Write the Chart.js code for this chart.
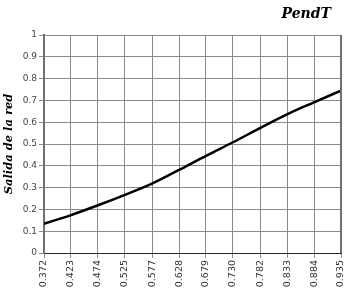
<!DOCTYPE html>
<html>
<head>
<meta charset="utf-8">
<script src="https://cdn.jsdelivr.net/npm/chart.js@4/dist/chart.umd.min.js"></script>
<style>
  html, body { margin: 0; padding: 0; background: #fff; }
  #wrap { width: 345px; height: 289px; }
</style>
</head>
<body>
<div id="wrap"><canvas id="myChart" width="345" height="289"></canvas></div>
<script>
// x positions (tick labels) and network output
const xTicks = [0.372, 0.423, 0.474, 0.525, 0.577, 0.628, 0.679, 0.730, 0.782, 0.833, 0.884, 0.935];
const xValues = [0.372, 0.4232, 0.4744, 0.5255, 0.5767, 0.6279, 0.6791, 0.7303, 0.7814, 0.8326, 0.8838, 0.935];
const salida = [0.134, 0.174, 0.219, 0.267, 0.318, 0.381, 0.446, 0.508, 0.573, 0.636, 0.691, 0.745];
const yTicks = [0, 0.1, 0.2, 0.3, 0.4, 0.5, 0.6, 0.7, 0.8, 0.9, 1];

const points = xValues.map((x, i) => ({ x: x, y: salida[i] }));

const titlePlugin = {
    id: 'cornerTitle',
    afterDraw(chart) {
        const ctx = chart.ctx;
        ctx.save();
        ctx.font = 'italic bold 14px "DejaVu Serif", serif';
        ctx.fillStyle = '#000';
        ctx.textAlign = 'right';
        ctx.textBaseline = 'middle';
        ctx.fillText('PendT', 331, 14);
        ctx.restore();
    }
};

const borderPlugin = {
    id: 'plotBorder',
    afterDatasetsDraw(chart) {
        const a = chart.chartArea;
        const ctx = chart.ctx;
        ctx.save();
        ctx.strokeStyle = '#707070';
        ctx.lineWidth = 2;
        ctx.beginPath();
        ctx.moveTo(a.right, a.top);
        ctx.lineTo(a.right, a.bottom);
        ctx.stroke();
        ctx.restore();
    }
};

var ctx = document.getElementById('myChart').getContext('2d');

new Chart(ctx, {
    type: 'line',
    data: {
        datasets: [{
            label: 'PendT',
            data: points,
            borderColor: '#000',
            borderWidth: 2.5,
            pointRadius: 0,
            cubicInterpolationMode: 'monotone',
            fill: false
        }]
    },
    options: {
        responsive: false,
        animation: false,
        layout: { padding: { top: 35, right: 4, left: 0, bottom: 0 } },
        plugins: {
            legend: { display: false },
            tooltip: { enabled: false }
        },
        scales: {
            x: {
                type: 'linear',
                min: xTicks[0],
                max: xTicks[xTicks.length - 1],
                afterBuildTicks: (scale) => { scale.ticks = xTicks.map(v => ({ value: v })); },
                afterFit: (scale) => {
                    scale.height = 36;
                    scale.paddingLeft = 0;
                    scale.paddingRight = 0;
                },
                ticks: {
                    autoSkip: false,
                    minRotation: 90,
                    maxRotation: 90,
                    padding: 2,
                    color: '#333',
                    font: { family: '"DejaVu Sans", sans-serif', size: 9.5 },
                    callback: (v) => Number(v).toFixed(3)
                },
                grid: { color: '#8a8a8a', lineWidth: 1, tickLength: 5 },
                border: { color: '#222', width: 1 }
            },
            y: {
                min: 0,
                max: 1,
                afterBuildTicks: (scale) => { scale.ticks = yTicks.map(v => ({ value: v })); },
                afterFit: (scale) => {
                    scale.width = 44;
                    scale.paddingTop = 0;
                    scale.paddingBottom = 0;
                },
                ticks: {
                    padding: 2,
                    color: '#444',
                    font: { family: '"DejaVu Sans", sans-serif', size: 9 },
                    callback: (v) => String(Math.round(v * 10) / 10)
                },
                grid: { color: '#8a8a8a', lineWidth: 1, tickLength: 5 },
                border: { color: '#707070', width: 2 },
                title: {
                    display: true,
                    text: 'Salida de la red',
                    color: '#000',
                    padding: { top: 2, bottom: 0 },
                    font: { family: '"DejaVu Serif", serif', size: 11.5, style: 'italic', weight: 'bold' }
                }
            }
        }
    },
    plugins: [titlePlugin, borderPlugin]
});
</script>
</body>
</html>
